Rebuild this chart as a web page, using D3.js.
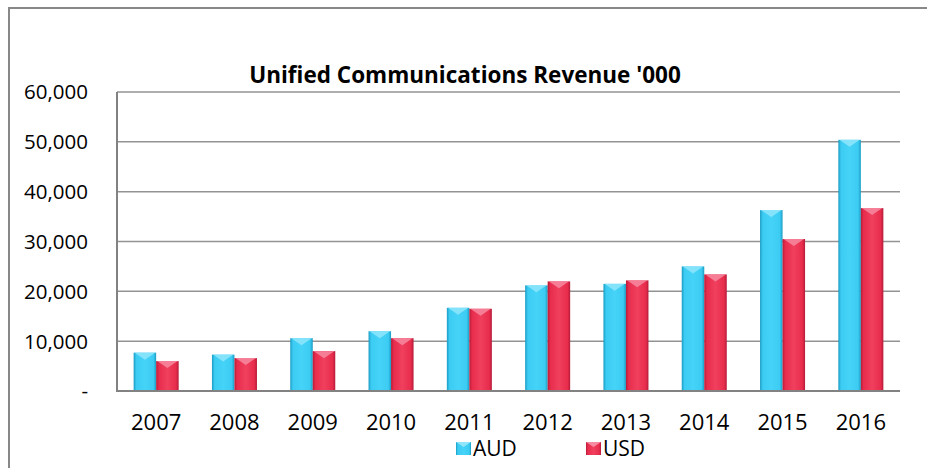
<!DOCTYPE html>
<html><head><meta charset="utf-8">
<script src="https://cdn.jsdelivr.net/npm/d3@7"></script>
<style>
html,body{margin:0;padding:0;background:#fff;}
svg{display:block;}
text{font-family:"Open Sans",sans-serif;fill:#000;}
</style></head>
<body>
<svg id="c" width="927" height="468"></svg>
<script>
const years = ["2007","2008","2009","2010","2011","2012","2013","2014","2015","2016"];
const audValues = [7700, 7300, 10600, 12000, 16700, 21200, 21500, 25000, 36300, 50400];
const usdValues = [6000, 6600, 8000, 10600, 16500, 22000, 22200, 23400, 30500, 36700];
const seriesNames = ["AUD", "USD"];
const yTicks = [0, 10000, 20000, 30000, 40000, 50000, 60000];
const titleText = "Unified Communications Revenue '000";

(function(){
const svg = d3.select("#c");
const colors = {
  AUD: {edge:"#1b9cc4", mid:"#3ccbf2", light:"#45d3f8", cap:"#8fe6fb"},
  USD: {edge:"#b51c3a", mid:"#e82c4c", light:"#f0405e", cap:"#f68aa0"}
};
const defs = svg.append("defs");
seriesNames.forEach(s => {
  const g = defs.append("linearGradient").attr("id","g"+s).attr("x1","0").attr("x2","1").attr("y1","0").attr("y2","0");
  g.append("stop").attr("offset","0").attr("stop-color",colors[s].edge);
  g.append("stop").attr("offset","0.12").attr("stop-color",colors[s].mid);
  g.append("stop").attr("offset","0.5").attr("stop-color",colors[s].light);
  g.append("stop").attr("offset","0.88").attr("stop-color",colors[s].mid);
  g.append("stop").attr("offset","1").attr("stop-color",colors[s].edge);
});

// outer frame
svg.append("path").attr("d","M9,470 L9,8 L930,8").attr("fill","none").attr("stroke","#888").attr("stroke-width",2);

// title
svg.append("text").attr("x",465).attr("y",83).attr("text-anchor","middle")
  .style("font-weight","bold").style("font-size","22.5px").text(titleText);

const pL = 117, pR = 900, pT = 92, pB = 391;
const x0 = d3.scaleBand().domain(years).range([pL,pR]).paddingInner(0.425).paddingOuter(0.2125);
const x1 = d3.scaleBand().domain(seriesNames).range([0,x0.bandwidth()]);
const y = d3.scaleLinear().domain([0,60000]).range([pB,pT]);

// gridlines
svg.append("g").selectAll("line").data(yTicks.slice(1)).join("line")
  .attr("x1",pL).attr("x2",pR).attr("y1",d=>y(d)).attr("y2",d=>y(d))
  .attr("stroke","#939393").attr("stroke-width",1.5);

// y labels
const fmt = d3.format(",");
svg.append("g").selectAll("text").data(yTicks).join("text")
  .attr("x",88).attr("y",d=>y(d)).attr("dy","0.36em").attr("text-anchor","end")
  .style("font-size","20.5px").text(d=> d===0 ? "-" : fmt(d));

// bars
const data = years.map((yr,i)=>({year:yr, AUD:audValues[i], USD:usdValues[i]}));
const groups = svg.append("g").selectAll("g").data(data).join("g")
  .attr("transform",d=>`translate(${x0(d.year)},0)`);
seriesNames.forEach(s=>{
  groups.append("rect")
    .attr("x",x1(s)).attr("width",x1.bandwidth())
    .attr("y",d=>y(d[s])).attr("height",d=>y(0)-y(d[s]))
    .attr("fill",`url(#g${s})`);
  groups.append("path")
    .attr("d",d=>{const xa=x1(s)+1, w=x1.bandwidth()-2, t=y(d[s]);
      return `M${xa},${t} L${xa+w},${t} L${xa+w/2},${t+7} Z`;})
    .attr("fill",colors[s].cap).attr("opacity",0.85);
});

// axes lines
svg.append("line").attr("x1",pL).attr("x2",pR).attr("y1",pB).attr("y2",pB).attr("stroke","#828282").attr("stroke-width",2);
svg.append("line").attr("x1",pL).attr("x2",pL).attr("y1",pT).attr("y2",pB+1).attr("stroke","#828282").attr("stroke-width",2);

// x labels
svg.append("g").selectAll("text").data(years).join("text")
  .attr("x",d=>x0(d)+x0.bandwidth()/2).attr("y",430).attr("text-anchor","middle")
  .style("font-size","22px").text(d=>d);

// legend
const legendX = [456, 586];
const lg = svg.append("g").selectAll("g").data(seriesNames).join("g")
  .attr("transform",(d,i)=>`translate(${legendX[i]},442)`);
lg.append("rect").attr("width",15).attr("height",13).attr("fill",d=>`url(#g${d})`);
lg.append("path").attr("d","M0,0 L15,0 L7.5,5 Z").attr("fill",d=>colors[d].cap);
lg.append("text").attr("x",17).attr("y",14).style("font-size","21px").text(d=>d);
})();
</script>
</body></html>
